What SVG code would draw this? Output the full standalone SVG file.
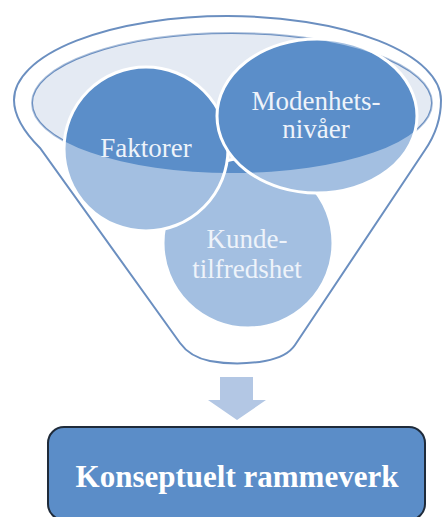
<svg xmlns="http://www.w3.org/2000/svg" width="444" height="517" viewBox="0 0 444 517">
  <defs>
    <style>
      .funnel-line { fill: none; stroke: #6b8fc0; stroke-width: 2; }
      .bubble { fill: #5b8ec9; stroke: #ffffff; stroke-width: 3; }
      .label { font-family: "Liberation Serif", "Times New Roman", serif; font-size: 27px; fill: #eef3fa; text-anchor: middle; }
      .box-label { font-family: "Liberation Serif", "Times New Roman", serif; font-size: 31px; font-weight: bold; fill: #ffffff; text-anchor: middle; }
    </style>
  </defs>

  <rect width="444" height="517" fill="#ffffff"/>

  <!-- funnel body (white) with outer rim -->
  <g id="funnel">
    <path id="funnel-shape" d="M 14,100 C 14,118 26,134 40,148 L 180,343 Q 190,357 210,361 Q 237,366 265,361 Q 287,357 295,345 L 425,150 C 436,134 441,118 441,100 A 213.5 84 0 0 0 14,100 Z" fill="#ffffff"/>
    <ellipse id="funnel-mouth" cx="232" cy="103" rx="200" ry="70" fill="#e4eaf3" stroke="#6b8fc0" stroke-width="2"/>
  </g>

  <!-- items falling into the funnel -->
  <g id="node-kundetilfredshet">
    <circle class="bubble" cx="248" cy="243" r="85"/>
  </g>
  <g id="node-faktorer">
    <circle class="bubble" cx="146" cy="149" r="82"/>
  </g>
  <g id="node-modenhetsnivaer">
    <ellipse class="bubble" cx="317" cy="116" rx="100" ry="77"/>
  </g>

  <!-- translucent funnel wall over everything below the mouth -->
  <path id="funnel-wall" fill="#ffffff" fill-opacity="0.44" fill-rule="evenodd"
        d="M 14,100 C 14,118 26,134 40,148 L 180,343 Q 190,357 210,361 Q 237,366 265,361 Q 287,357 295,345 L 425,150 C 436,134 441,118 441,100 A 213.5 84 0 0 0 14,100 Z
           M 32,103 A 200 70 0 1 0 432,103 A 200 70 0 1 0 32,103 Z"/>
  <path class="funnel-line" d="M 14,100 C 14,118 26,134 40,148 L 180,343 Q 190,357 210,361 Q 237,366 265,361 Q 287,357 295,345 L 425,150 C 436,134 441,118 441,100 A 213.5 84 0 0 0 14,100 Z"/>

  <!-- labels -->
  <text class="label" x="146" y="157">Faktorer</text>
  <text class="label" x="316" y="110">Modenhets-</text>
  <text class="label" x="316" y="138">nivåer</text>
  <text class="label" x="247" y="248">Kunde-</text>
  <text class="label" x="247" y="278">tilfredshet</text>

  <!-- connector -->
  <g id="connectors">
    <path d="M 220,377 L 253,377 L 253,400 L 266,400 L 237,420 L 208,400 L 220,400 Z" fill="#b3c7e4"/>
  </g>

  <!-- result -->
  <g id="node-rammeverk">
    <rect x="48" y="427" width="377" height="93" rx="16" ry="16" fill="#5b8dc8" stroke="#1f2b3a" stroke-width="2"/>
    <text class="box-label" x="237" y="487">Konseptuelt rammeverk</text>
  </g>
</svg>
